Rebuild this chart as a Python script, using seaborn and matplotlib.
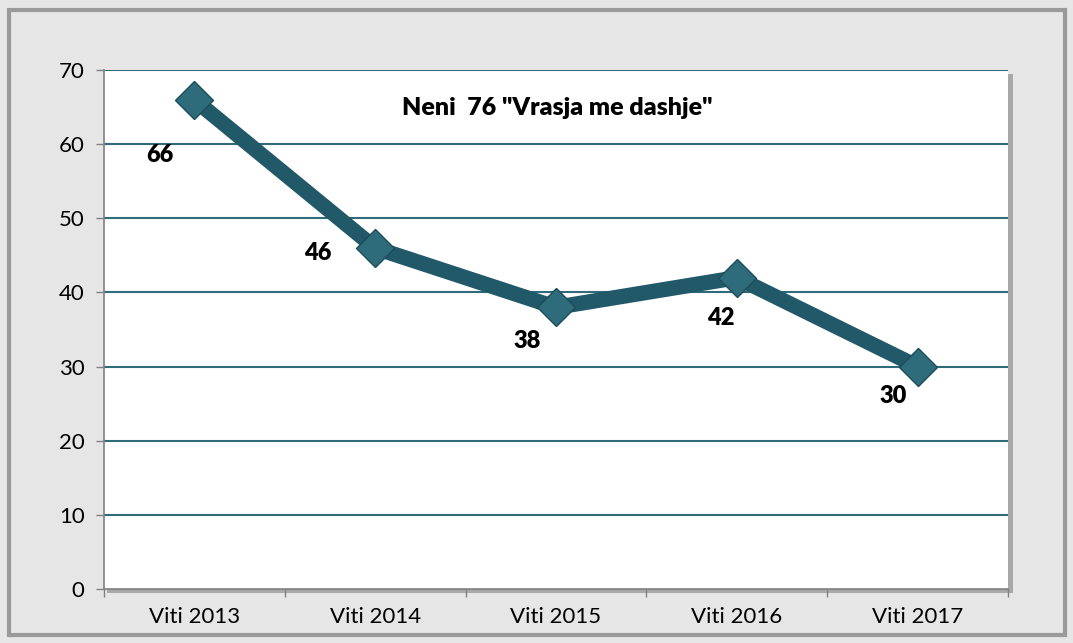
import numpy as np
import pandas as pd
import matplotlib
matplotlib.use("Agg")
import matplotlib.pyplot as plt
from matplotlib.patches import Rectangle
import seaborn as sns

#DATA
years = ['Viti 2013', 'Viti 2014', 'Viti 2015', 'Viti 2016', 'Viti 2017']
cases = [66, 46, 38, 42, 30]
title = 'Neni  76 "Vrasja me dashje"'
# label offsets in pixels (dx, dy) relative to each point
label_offsets = [(-34, -55), (-57, -5), (-29, -34), (-16, -40), (-24, -29)]

df = pd.DataFrame({'Year': years, 'Cases': cases})

sns.set_style('white')
plt.rcParams['font.family'] = ['Lato', 'DejaVu Sans']

teal = '#215968'
grid_c = '#2f6b7a'

fig = plt.figure(figsize=(10.73, 6.43), dpi=100)
fig.patch.set_facecolor('#e6e6e6')

# outer frame
fig.patches.append(Rectangle((0.008, 0.012), 0.985, 0.972, transform=fig.transFigure,
                             facecolor='none', edgecolor='#9a9a9a', linewidth=3, zorder=0))
# plot area shadow
fig.patches.append(Rectangle((0.0995, 0.077), 0.845, 0.808, transform=fig.transFigure,
                             facecolor='#a8a8a8', edgecolor='none', zorder=0))

ax = fig.add_axes([0.0969, 0.084, 0.8425, 0.807])
ax.set_zorder(3)
ax.set_facecolor('white')

sns.lineplot(data=df, x='Year', y='Cases', sort=False, ax=ax, color=teal,
             linewidth=11, marker='D', markersize=19, markeredgecolor='#1b4d5a',
             markerfacecolor='#2e6b7b', markeredgewidth=1, zorder=5)

ax.set_ylim(0, 70)
ax.set_xlim(-0.5, 4.5)
ax.set_yticks(range(0, 71, 10))
for yv in range(10, 71, 10):
    ax.axhline(yv, color=grid_c, linewidth=1.5, zorder=1)

ax.set_xlabel('')
ax.set_ylabel('')
ax.tick_params(axis='y', which='major', length=6, width=1, color='#808080',
               labelsize=16, pad=8, left=True, labelcolor='black')
ax.tick_params(axis='x', which='major', length=0, labelsize=16, pad=13, labelcolor='black')
ax.set_xticks(np.arange(-0.5, 4.6, 1), minor=True)
ax.tick_params(axis='x', which='minor', length=6, width=1, color='#808080', bottom=True)

for s in ['top', 'right']:
    ax.spines[s].set_visible(False)
ax.spines['left'].set_color('#808080')
ax.spines['bottom'].set_color('#808080')
ax.spines['left'].set_linewidth(1.2)
ax.spines['bottom'].set_linewidth(1.2)

for i, (v, off) in enumerate(zip(cases, label_offsets)):
    ax.annotate(str(v), (i, v), xytext=off, textcoords='offset pixels',
                ha='center', va='center', fontsize=17, fontweight='heavy', color='black')

ax.text(0.501, 0.927, title, transform=ax.transAxes, ha='center', va='center',
        fontsize=18, fontweight='heavy', color='black')

fig.savefig('out.png', dpi=100, facecolor=fig.get_facecolor())
